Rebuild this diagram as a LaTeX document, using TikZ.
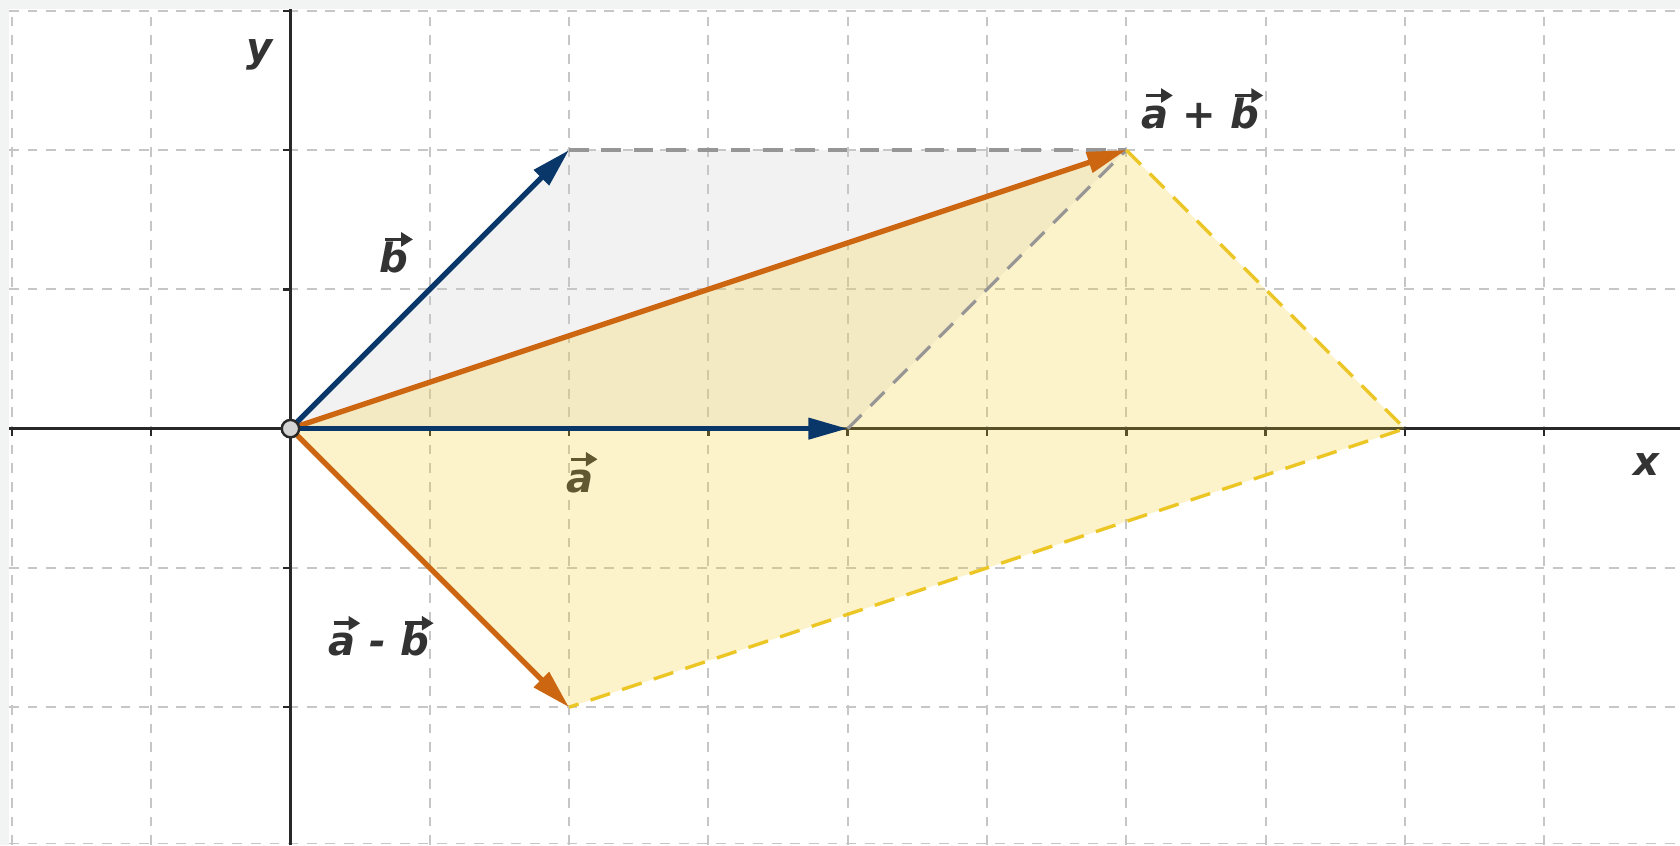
\documentclass[tikz,border=0pt]{standalone}
\usepackage{fontspec}
\setmainfont{DejaVu Sans}
\usetikzlibrary{arrows.meta}
\definecolor{navy}{RGB}{10,55,105}
\definecolor{orng}{RGB}{204,102,17}
\definecolor{ylw}{RGB}{236,198,36}
\definecolor{yfill}{RGB}{247,205,40}
\definecolor{gfill}{RGB}{205,205,210}
\definecolor{gdashc}{RGB}{150,150,150}
\definecolor{gridc}{RGB}{198,198,198}
\definecolor{axisc}{RGB}{40,40,40}
\definecolor{txt}{RGB}{51,51,51}
\definecolor{framec}{RGB}{242,243,243}
\definecolor{ptfill}{RGB}{212,212,212}
\newcommand\vv[1]{\tikz[baseline=(vvl.base)]{\node[inner sep=0pt,outer sep=0pt,anchor=base] (vvl) {#1};\draw[overlay,draw=txt,line width=0.7pt,-{Triangle[length=2.4pt,width=2.8pt]}] ([xshift=1.0pt,yshift=6.7pt]vvl.base west) -- ([xshift=0.9pt,yshift=6.7pt]vvl.base east);}}
\begin{document}
\begin{tikzpicture}[x=1cm,y=1cm,
  lbl/.style={font=\fontsize{8.2pt}{9pt}\selectfont\bfseries\itshape, text=txt, inner sep=0pt, anchor=base},
  gridline/.style={draw=gridc, line width=0.4pt, dash pattern=on 2pt off 1.8pt},
  axisline/.style={draw=axisc, line width=0.5pt},
  vecb/.style={draw=navy, fill=navy, line width=1.1pt, -{Triangle[length=8pt,width=4.2pt]}},
  veco/.style={draw=orng, fill=orng, line width=1.1pt, -{Triangle[length=8pt,width=4.2pt]}},
  gdash/.style={draw=gdashc, line width=0.65pt, dash pattern=on 4pt off 2.6pt},
  ydash/.style={draw=ylw, line width=0.7pt, dash pattern=on 4.2pt off 2.6pt},
  gpoly/.style={fill=gfill, fill opacity=0.25},
  ypoly/.style={fill=yfill, fill opacity=0.24},
  pt/.style={circle, fill=ptfill, draw=axisc, line width=0.5pt, minimum size=0.125cm, inner sep=0pt}]
% frame
\fill[framec] (-2.085,-2.989) rectangle (9.975,3.077);
\fill[white] (-2.02,-2.989) rectangle (9.975,3.013);
\useasboundingbox (-2.085,-2.989) rectangle (9.975,3.077);
% grid
\foreach \x in {-2,...,9} \draw[gridline] (\x,-2.989) -- (\x,3.013);
\foreach \y in {-2,...,3} \draw[gridline] (-2.02,\y) -- (9.975,\y);
\draw[gridline] (-2.02,-2.978) -- (9.975,-2.978);
% axes
\draw[axisline] (-2.02,0) -- (9.975,0);
\draw[axisline] (0,-2.989) -- (0,3.013);
\foreach \x in {-2,-1,1,2,...,9} \draw[axisline] (\x,0) -- (\x,-0.05);
\foreach \y in {-2,-1,1,2,3} \draw[axisline] (0,\y) -- (-0.05,\y);
\node[lbl] (ylab) at (-0.225,2.632) {y};
\node[lbl] (xlab) at (9.735,-0.338) {x};
% points
\coordinate (O) at (0,0);
\coordinate (A) at (4,0);
\coordinate (B) at (2,2);
\coordinate (S) at (6,2);
\coordinate (E) at (8,0);
\coordinate (D) at (2,-2);
% labels
\node[lbl] (la) at (2.076,-0.455) {\vv{a}};
\node[lbl] (lb) at (0.745,1.123) {\vv{b}};
\node[lbl] (lab) at (6.53,2.156) {\vv{a} + \vv{b}};
\node[lbl] (lamb) at (0.636,-1.632) {\vv{a} - \vv{b}};
% parallelograms
\fill[gpoly] (O) -- (A) -- (S) -- (B) -- cycle;
\fill[ypoly] (O) -- (S) -- (E) -- (D) -- cycle;
\draw[gdash] (B) -- (S);
\draw[gdash] (A) -- (S);
\draw[ydash] (S) -- (E) -- (D);
% vectors
\draw[veco] (O) -- (S);
\draw[veco] (O) -- (D);
\draw[vecb] (O) -- (A);
\draw[vecb] (O) -- (B);
\node[pt] (Opt) at (O) {};
\end{tikzpicture}
\end{document}
